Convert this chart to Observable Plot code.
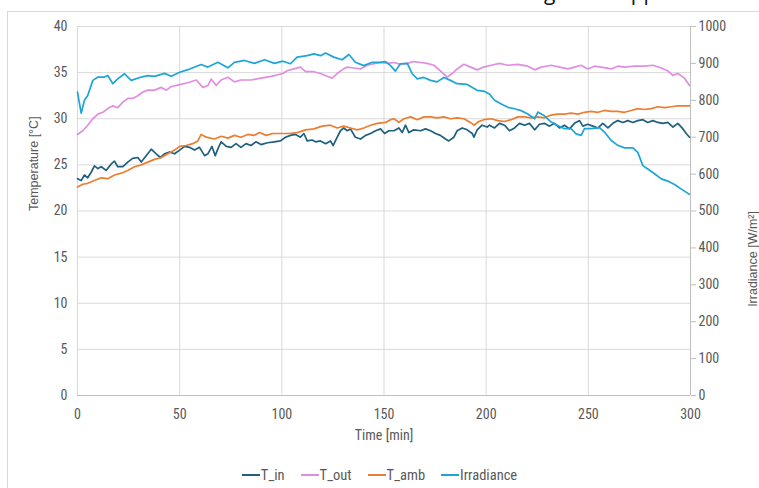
<!DOCTYPE html>
<html>
<head>
<meta charset="utf-8">
<script src="https://cdn.jsdelivr.net/npm/d3@7"></script>
<script src="https://cdn.jsdelivr.net/npm/@observablehq/plot@0.6"></script>
<style>
  html, body { margin: 0; padding: 0; background: #fff; }
  #wrap { position: relative; width: 759px; height: 488px; overflow: hidden; background: #fff; }
  #frame { position: absolute; left: 7px; top: 11px; width: 780px; height: 500px; border: 1px solid #d9d9d9; box-sizing: border-box; }
  #chart { position: absolute; left: 0; top: 0; }
  #legend { position: absolute; left: 0; width: 759px; top: 466px; height: 18px; display: flex; justify-content: center; align-items: center; gap: 16px;
            font-family: "Liberation Sans Narrow", "Roboto Condensed", Roboto, sans-serif; font-size: 14.5px; color: #595959; }
  #legend .item { display: flex; align-items: center; gap: 1px; }
  #legend .sw { width: 18px; height: 2px; display: inline-block; }
  .cut { position: absolute; top: -18px; line-height: 21px; font-family: "Open Sans", sans-serif; font-size: 21px; color: #111; white-space: pre; }
</style>
</head>
<body>
<div id="wrap">
  <span class="cut" style="left:544px">g</span><span class="cut" style="left:619px">app</span>
  <div id="frame"></div>
  <div id="chart"></div>
  <div id="legend"></div>
</div>
<script>
// ---- data (time [min], value) ----
const seriesNames = ["T_in", "T_out", "T_amb", "Irradiance"];
const seriesColors = ["#1f5f7f", "#e08ee0", "#ed7d31", "#1ea5d6"];

const T_in = [[0,23.5],[1.8,23.3],[3.4,23.9],[5,23.6],[6.7,24.2],[8.3,24.9],[10,24.6],[11.6,24.8],[14,24.4],[16.5,25.1],[18.1,25.4],[19.7,24.8],[22.2,24.8],[24.6,25.3],[27,25.7],[29.5,25.8],[31.2,25.3],[33.6,26.0],[36.1,26.7],[38.5,26.2],[40.6,25.8],[42.6,26.2],[45,26.4],[47.5,26.2],[50,26.6],[52.4,27.0],[54.8,26.9],[57.3,26.6],[59.7,26.9],[62.2,26.0],[63.8,26.2],[65.8,27.0],[67.4,26.0],[69,26.9],[70.3,27.5],[72.8,27.0],[75.2,26.9],[77.6,27.3],[80,26.9],[82.5,27.3],[84.9,27.1],[87.3,27.5],[89.8,27.2],[93,27.4],[96.3,27.5],[99.3,27.6],[101.8,28.0],[104.2,28.2],[106.7,28.3],[109.1,28.0],[110.8,28.4],[112.4,27.6],[114.8,27.7],[116.5,27.5],[118.9,27.6],[121.4,27.3],[123.8,27.6],[125.1,27.1],[127.1,28.0],[128.7,28.7],[130.3,29.0],[132,28.7],[133.6,28.9],[136,28.0],[138.5,27.8],[141,28.2],[143.4,28.4],[145.9,28.7],[148.3,28.9],[150.3,28.4],[152.4,28.7],[154.9,28.7],[157.3,29.0],[158.9,28.5],[160.5,29.3],[162.2,28.5],[164.6,28.8],[167.9,28.7],[170.3,28.9],[172.8,28.7],[175.2,28.4],[177.6,28.2],[180.1,27.8],[181.7,27.6],[184.2,28.0],[185.8,28.7],[188.3,29.0],[190.7,28.8],[193.2,28.4],[194,28.0],[195.6,28.8],[198,29.3],[200.5,29.1],[201.6,29.3],[204.1,29.0],[206.5,29.5],[209,29.3],[211.4,28.7],[213.9,29.0],[216.3,29.5],[218.8,29.3],[221.2,29.5],[223.7,28.8],[226.1,29.4],[228.5,29.5],[231,29.2],[233.4,29.5],[235.9,29.0],[238.3,29.3],[240.8,28.9],[243.2,29.5],[245.7,29.8],[247.3,29.2],[249.7,29.4],[252.2,29.2],[254.7,29.0],[257.1,29.5],[259.6,29.0],[262,29.5],[264.4,29.8],[266.9,29.6],[269.3,29.8],[271.8,29.6],[274.2,29.8],[276.7,29.9],[279.1,29.6],[281.6,29.8],[284,29.6],[286.5,29.5],[288.9,29.6],[291.4,29.1],[293.8,29.5],[296.3,28.9],[297.9,28.4],[299.5,28.0]];

const T_out = [[0,28.3],[2.6,28.7],[5,29.3],[7.5,30.0],[10,30.5],[12.4,30.7],[14.8,31.1],[17.3,31.4],[19.7,31.2],[22.2,31.8],[24.6,32.2],[27,32.2],[29.5,32.5],[32,32.9],[34.4,33.1],[37.7,33.1],[41,33.4],[43.5,33.1],[45.9,33.5],[50,33.7],[54,33.9],[58.1,34.2],[61.3,33.4],[63.8,33.6],[65.4,34.3],[67.9,33.6],[70.3,34.2],[73.6,34.5],[76.8,34.0],[80,34.2],[84.9,34.2],[89.9,34.4],[94.8,34.6],[100.5,34.9],[102.6,35.2],[105.9,35.4],[109.1,35.6],[111.6,35.1],[115.7,35.1],[118.9,34.9],[122.2,34.6],[124.6,34.4],[127.1,34.9],[129.5,35.3],[132,35.6],[135.2,35.5],[138.5,35.4],[141.8,35.8],[145.8,36.0],[148.3,36.1],[151.6,36.0],[154.9,36.1],[158.1,35.9],[161.4,36.0],[164.6,36.2],[167.9,36.1],[171.1,36.0],[174.4,35.8],[177.6,35.2],[180.9,34.5],[183.4,34.9],[185.8,35.4],[189.1,35.9],[192.4,35.6],[195.6,35.3],[198.8,35.6],[202.4,35.8],[206.5,36.0],[210.6,35.8],[215.5,35.9],[220.4,35.7],[223.7,35.3],[227,35.6],[231.8,35.8],[235.9,35.6],[240,35.4],[243.2,35.6],[246.5,35.8],[249.7,35.4],[253,35.7],[256.3,35.6],[261.2,35.4],[264.4,35.7],[267.7,35.6],[272.6,35.7],[277.5,35.7],[281.6,35.8],[285.7,35.5],[288.9,35.2],[291.3,34.7],[293.8,34.9],[297.1,34.4],[299.5,33.6]];

const T_amb = [[0,22.6],[2.6,22.9],[5,23.0],[8.3,23.3],[11.6,23.6],[14.8,23.5],[18.1,23.9],[21.4,24.1],[24.6,24.4],[27.9,24.8],[31.2,25.0],[34.4,25.3],[37.7,25.6],[41,25.8],[44.2,26.2],[47.5,26.6],[50,27.0],[53.2,27.1],[56.4,27.3],[58.9,27.6],[60.5,28.3],[63,28.0],[67,27.8],[70.3,28.1],[73.6,27.9],[76.8,28.2],[80,28.0],[83.3,28.3],[86.6,28.2],[89.1,28.5],[92.3,28.2],[95.6,28.4],[100.5,28.4],[103.4,28.4],[107.5,28.5],[111.6,28.8],[115.7,28.9],[119.8,29.2],[123.8,29.3],[127.1,29.0],[130.3,29.2],[133.6,29.0],[136.9,28.8],[140.1,29.0],[143.4,29.3],[146.7,29.5],[150.8,29.6],[153.2,29.9],[154.9,30.0],[157.3,29.6],[159.7,30.0],[163,30.2],[166.3,29.9],[169.5,30.2],[172.8,30.2],[176,30.1],[179.3,30.2],[182.5,30.0],[185.8,30.1],[189.1,30.0],[192.3,29.6],[194,29.3],[196.4,29.7],[198.8,29.9],[202.4,30.0],[205.7,29.8],[209,29.7],[212.2,29.9],[215.5,30.2],[218.8,30.2],[222,30.1],[225.3,30.2],[228.5,30.1],[231.8,30.4],[235,30.5],[238.3,30.5],[241.6,30.6],[244.9,30.5],[248.1,30.7],[251.4,30.8],[254.7,30.7],[257.9,30.9],[261.2,30.8],[264.4,30.8],[267.7,30.7],[271,30.9],[274.2,31.1],[277.5,31.0],[280.8,31.1],[284,31.3],[287.3,31.2],[290.6,31.3],[293.8,31.4],[297.1,31.4],[299.5,31.4]];

const Irradiance = [[0,822],[1.8,765],[3.4,800],[5,813],[7.5,854],[10,863],[13.2,863],[14.8,867],[17.3,845],[19.7,858],[23,872],[26.3,854],[31.2,863],[34.4,867],[37.7,865],[42.6,873],[45.9,865],[50,876],[54,883],[60.5,897],[63.8,890],[68.7,903],[73.6,888],[76.8,903],[81.7,908],[86.6,900],[91.5,910],[96.4,900],[100.5,906],[104.2,899],[107.5,917],[112.4,921],[115.7,926],[119,921],[121.4,928],[125.4,917],[129.5,910],[132.8,924],[136,903],[140.1,894],[144.2,903],[148.3,903],[150.8,905],[153.2,894],[155.6,879],[158,899],[161.4,900],[163.8,872],[166.3,858],[169.5,862],[172.8,854],[176,850],[179.3,862],[182.5,854],[185.8,845],[190.7,843],[195.6,827],[199.2,824],[201.6,817],[204.1,800],[207.4,790],[210.6,781],[213.9,777],[217.1,772],[220.4,763],[223.7,750],[225.3,768],[228.5,758],[231.8,741],[235,732],[238.3,723],[241.6,723],[244,709],[246.5,705],[248.1,723],[251.4,723],[255.5,726],[257.9,714],[261.2,691],[264.4,678],[267.7,671],[271.8,671],[274.2,659],[276.7,623],[279.1,614],[282.4,601],[285.7,587],[288.9,581],[292.2,572],[295.4,560],[299.5,545]];

const xTicks = [0, 50, 100, 150, 200, 250, 300];
const tempTicks = [0, 5, 10, 15, 20, 25, 30, 35, 40];
const irrTicks = [0, 100, 200, 300, 400, 500, 600, 700, 800, 900, 1000];
const irrPerDeg = 1000 / 40; // right axis maps 0–1000 onto 0–40

const tickFont = '"Liberation Sans Narrow", "Roboto Condensed", Roboto, sans-serif';
const titleFont = '"Liberation Sans", Arial, sans-serif';
const grey = "#595959";

const chart = Plot.plot({
  width: 759,
  height: 452,
  marginLeft: 77,
  marginRight: 69,
  marginTop: 26,
  marginBottom: 57,
  style: { background: "transparent", fontFamily: tickFont, overflow: "visible" },
  x: { domain: [0, 300] },
  y: { domain: [0, 40] },
  marks: [
    Plot.gridY(tempTicks, { stroke: "#d9d9d9", strokeOpacity: 1 }),
    Plot.gridX(xTicks, { stroke: "#d9d9d9", strokeOpacity: 1 }),
    Plot.ruleY([0], { stroke: "#bfbfbf" }),
    Plot.ruleX([300], { stroke: "#bfbfbf" }),
    Plot.axisX(xTicks, { anchor: "bottom", tickSize: 0, tickPadding: 14, fontSize: 14, fill: grey, label: null }),
    Plot.axisY(tempTicks, { anchor: "left", tickSize: 0, tickPadding: 10, fontSize: 14, fill: grey, label: null }),
    Plot.axisY(irrTicks, { anchor: "right", y: d => d / irrPerDeg, text: d => String(d), tickSize: 5, tickPadding: 3, stroke: "#bfbfbf", fontSize: 14, fill: grey, label: null }),
    Plot.text(["Temperature [°C]"], { text: d => d, frameAnchor: "left", dx: -44, rotate: -90, fontSize: 12.5, fill: grey, fontFamily: titleFont }),
    Plot.text(["Irradiance [W/m²]"], { text: d => d, frameAnchor: "right", dx: 62, rotate: -90, fontSize: 12.5, fill: grey, fontFamily: titleFont }),
    Plot.text(["Time [min]"], { text: d => d, frameAnchor: "bottom", dy: 44, fontSize: 14, fill: grey }),
    Plot.line(T_in, { x: d => d[0], y: d => d[1], stroke: seriesColors[0], strokeWidth: 1.7 }),
    Plot.line(T_out, { x: d => d[0], y: d => d[1], stroke: seriesColors[1], strokeWidth: 1.7 }),
    Plot.line(T_amb, { x: d => d[0], y: d => d[1], stroke: seriesColors[2], strokeWidth: 1.7 }),
    Plot.line(Irradiance, { x: d => d[0], y: d => d[1] / irrPerDeg, stroke: seriesColors[3], strokeWidth: 1.7 })
  ]
});
document.getElementById("chart").appendChild(chart);

const legend = document.getElementById("legend");
seriesNames.forEach((name, i) => {
  const item = document.createElement("span");
  item.className = "item";
  const sw = document.createElement("span");
  sw.className = "sw";
  sw.style.background = seriesColors[i];
  const label = document.createElement("span");
  label.textContent = name;
  item.appendChild(sw);
  item.appendChild(label);
  legend.appendChild(item);
});
</script>
</body>
</html>
